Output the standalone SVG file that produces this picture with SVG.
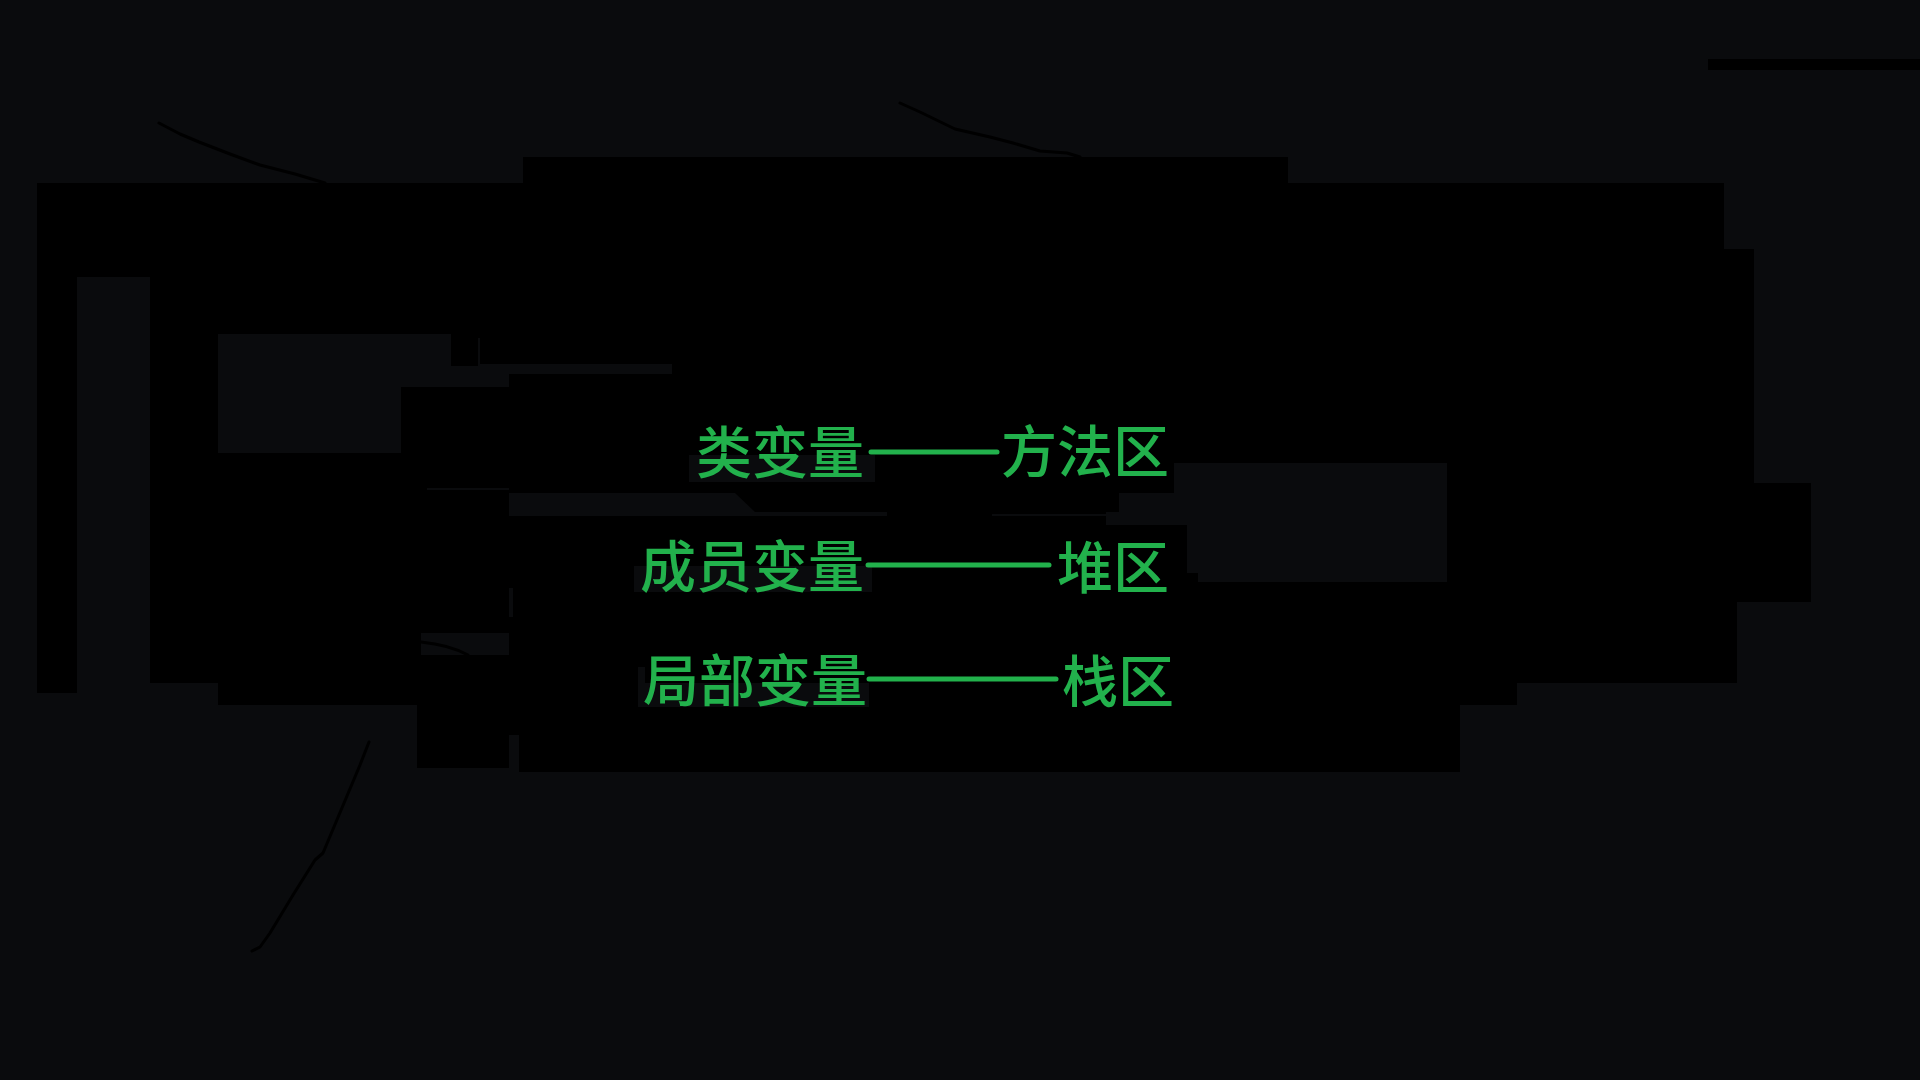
<svg xmlns="http://www.w3.org/2000/svg" width="1920" height="1080" viewBox="0 0 1920 1080">
  <defs>
    <style>
      .bg { fill: #0a0b0d; }
      .blk { fill: #000000; }
      .gry { fill: #0a0b0d; }
      .crv { fill: none; stroke: #000000; stroke-width: 3; stroke-linecap: round; stroke-linejoin: round; }
      .lbl { font-family: "Noto Sans CJK SC", "Noto Sans", sans-serif; font-size: 56px; font-weight: 500; fill: #22b14c; }
      .con { stroke: #22b14c; stroke-width: 5; stroke-linecap: round; fill: none; }
    </style>
  </defs>

  <!-- background -->
  <rect class="bg" x="0" y="0" width="1920" height="1080"/>

  <!-- black masses -->
  <g id="backdrop">
    <rect class="blk" x="1708" y="59" width="212" height="11"/>
    <polygon class="blk" points="37,183 523,183 523,157 1288,157 1288,183 1724,183 1724,249 1754,249 1754,483 1811,483 1811,602 1737,602 1737,683 1517,683 1517,705 1460,705 1460,772 519,772 519,735 509,735 509,768 417,768 417,705 218,705 218,683 150,683 150,277 77,277 77,693 37,693"/>
    <!-- gray patches inside -->
    <rect class="gry" x="218" y="334" width="233" height="32"/>
    <rect class="gry" x="218" y="366" width="183" height="87"/>
    <rect class="gry" x="478" y="338" width="2" height="28"/>
    <rect class="gry" x="479" y="364" width="193" height="10"/>
    <rect class="gry" x="401" y="366" width="108" height="21"/>
    <rect class="gry" x="427" y="488" width="82" height="2"/>
    <polygon class="gry" points="509,493 735,493 755,512 887,512 887,516 509,516"/>
    <rect class="gry" x="421" y="633" width="88" height="22"/>
    <path class="crv" d="M421,642 Q450,645 468,655"/>
    <rect class="gry" x="509" y="588" width="4" height="29"/>
    <polygon class="gry" points="1174,463 1447,463 1447,582 1198,582 1198,573 1187,573 1187,525 1106,525 1106,512 1119,512 1119,493 1174,493"/>
    <rect class="gry" x="992" y="514" width="114" height="2"/>
    <!-- label backings -->
    <rect class="gry" x="689" y="455" width="186" height="27"/>
    <rect class="gry" x="634" y="566" width="238" height="26"/>
    <rect class="gry" x="638" y="683" width="231" height="24"/>
    <rect class="gry" x="638" y="667" width="7" height="23"/>
    <!-- strokes -->
    <path class="crv" d="M159,123 L180,134 L199,142 L230,154 L260,165 L295,174 L325,183"/>
    <path class="crv" d="M900,103 L920,112 L955,129 L990,137 L1013,143 L1040,151 L1067,153 L1080,157"/>
    <path class="crv" d="M369,742 L360,765 L323,853 L315,860 L293,895 L270,933 L260,947 L252,951"/>
  </g>

  <!-- connectors -->
  <g id="connectors">
    <line class="con" x1="871" y1="452" x2="997" y2="452"/>
    <line class="con" x1="868" y1="565" x2="1049" y2="565"/>
    <line class="con" x1="869" y1="679" x2="1056" y2="679"/>
  </g>

  <!-- nodes -->
  <g id="node-class-var"><text class="lbl" x="864" y="473" text-anchor="end">类变量</text></g>
  <g id="node-method-area"><text class="lbl" x="1001" y="472">方法区</text></g>
  <g id="node-member-var"><text class="lbl" x="864" y="587" text-anchor="end">成员变量</text></g>
  <g id="node-heap"><text class="lbl" x="1057" y="588">堆区</text></g>
  <g id="node-local-var"><text class="lbl" x="867" y="701" text-anchor="end">局部变量</text></g>
  <g id="node-stack"><text class="lbl" x="1062" y="702">栈区</text></g>
</svg>
